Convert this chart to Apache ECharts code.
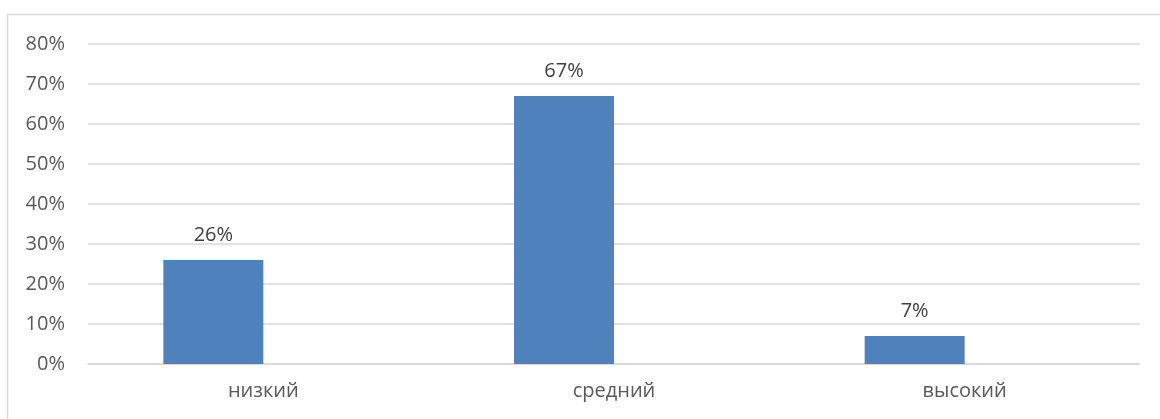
<!DOCTYPE html>
<html><head><meta charset="utf-8">
<script src="https://cdn.jsdelivr.net/npm/echarts@6/dist/echarts.min.js"></script>
<style>html,body{margin:0;padding:0;background:#fff}#c{width:1160px;height:419px}</style>
</head><body><div id="c"></div>
<script>
const categories = ['низкий', 'средний', 'высокий'];
const values = [26, 67, 7];
const emptySeries = ['-', '-', '-'];
const chart = echarts.init(document.getElementById('c'));
chart.setOption({
  animation: false,
  textStyle: {fontFamily: 'Open Sans'},
  graphic: [{type: 'rect', shape: {x: 7.5, y: 14.5, width: 1300, height: 600}, style: {fill: 'none', stroke: '#d9d9d9', lineWidth: 1.5}, silent: true, z: -1}],
  grid: {left: 88, right: 20, top: 44, bottom: 55, containLabel: false},
  xAxis: {type: 'category', data: categories,
    axisLine: {lineStyle: {color: '#d9d9d9', width: 1.5}}, axisTick: {show: false},
    axisLabel: {color: '#595959', fontSize: 20, margin: 17}},
  yAxis: {type: 'value', min: 0, max: 80, interval: 10,
    axisLine: {show: false}, axisTick: {show: false},
    splitLine: {lineStyle: {color: '#d9d9d9', width: 1.5}},
    axisLabel: {color: '#595959', fontSize: 20, margin: 23, formatter: '{value}%'}},
  series: [
    {type: 'bar', data: values, barWidth: 100, barGap: '0%', itemStyle: {color: '#4f81bd'},
     label: {show: true, position: 'top', distance: 15, color: '#404040', fontSize: 20, formatter: '{c}%'}},
    {type: 'bar', data: emptySeries, barWidth: 100, itemStyle: {color: '#c0504d'}}
  ]
});
</script></body></html>
